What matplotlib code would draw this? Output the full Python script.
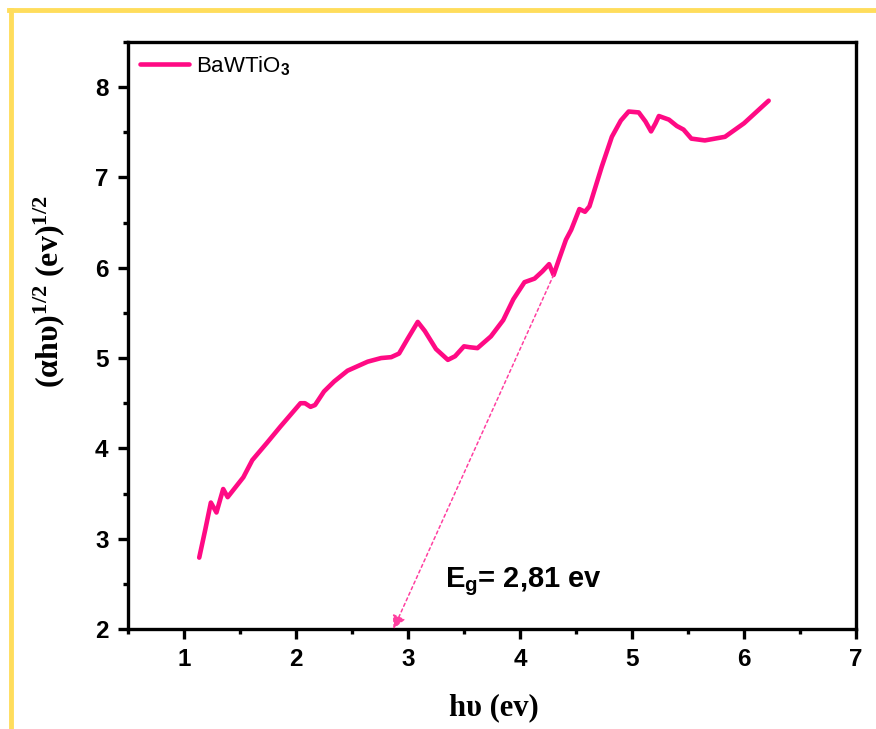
import numpy as np
import matplotlib.pyplot as plt
from matplotlib.lines import Line2D
from matplotlib.ticker import MultipleLocator

# Tauc plot data
hv = [1.136, 1.19, 1.24, 1.29, 1.35, 1.39, 1.53, 1.61, 1.74, 1.86, 1.95,
      2.04, 2.08, 2.13, 2.17, 2.25, 2.34, 2.46, 2.64, 2.76, 2.85, 2.92,
      3.00, 3.087, 3.15, 3.25, 3.356, 3.42, 3.50, 3.55, 3.62, 3.74, 3.85,
      3.94, 4.04, 4.13, 4.20, 4.26, 4.30, 4.35, 4.41, 4.457, 4.53, 4.58,
      4.62, 4.73, 4.82, 4.90, 4.97, 5.06, 5.12, 5.17, 5.21, 5.24, 5.33,
      5.40, 5.46, 5.53, 5.65, 5.83, 6.00, 6.22]
tauc = [2.79, 3.10, 3.40, 3.29, 3.55, 3.46, 3.68, 3.87, 4.06, 4.24, 4.37,
        4.50, 4.50, 4.46, 4.48, 4.63, 4.74, 4.86, 4.96, 5.00, 5.01, 5.05,
        5.22, 5.40, 5.30, 5.10, 4.98, 5.02, 5.13, 5.12, 5.11, 5.24, 5.42,
        5.65, 5.84, 5.88, 5.96, 6.04, 5.92, 6.10, 6.31, 6.42, 6.65, 6.62,
        6.68, 7.12, 7.45, 7.63, 7.73, 7.72, 7.62, 7.51, 7.60, 7.68, 7.64,
        7.57, 7.53, 7.43, 7.41, 7.45, 7.60, 7.85]

# tangent line: from point on curve down to x-axis intercept
fit_start = (4.30, 5.92)
fit_end = (2.87, 2.0)

plt.rcParams['mathtext.fontset'] = 'custom'
plt.rcParams['mathtext.rm'] = 'Liberation Serif:bold'
plt.rcParams['mathtext.it'] = 'Liberation Serif:bold'
plt.rcParams['mathtext.bf'] = 'Liberation Serif:bold'
plt.rcParams['mathtext.sf'] = 'Liberation Sans:bold'

pink = '#FF0A84'

fig = plt.figure(figsize=(8.76, 7.29), dpi=100)
ax = fig.add_axes([0.1461, 0.1372, 0.8311, 0.8052])

ax.plot(hv, tauc, color=pink, lw=3.3, solid_capstyle='round',
        solid_joinstyle='round', label=r'BaWTiO$_{\mathsf{3}}$')

ax.annotate('', xy=fit_end, xytext=fit_start,
            arrowprops=dict(arrowstyle='-|>', color='#FF3FA0', lw=1.1,
                            linestyle=(0, (2, 2)), mutation_scale=20,
                            shrinkA=0, shrinkB=0))

ax.text(3.33, 2.47, r'E$_{\mathsf{g}}$= 2,81 ev', fontsize=21,
        fontweight='bold', family='Liberation Sans')

ax.set_xlim(0.5, 7)
ax.set_ylim(2, 8.5)
ax.xaxis.set_major_locator(MultipleLocator(1))
ax.xaxis.set_minor_locator(MultipleLocator(0.5))
ax.yaxis.set_major_locator(MultipleLocator(1))
ax.yaxis.set_minor_locator(MultipleLocator(0.5))

for s in ax.spines.values():
    s.set_linewidth(2.4)
ax.tick_params(which='major', length=7, width=2.4, labelsize=17.5, pad=7)
ax.tick_params(which='minor', length=3.5, width=2.4)
for lab in ax.get_xticklabels() + ax.get_yticklabels():
    lab.set_family('Liberation Sans')
    lab.set_fontweight('bold')

ax.set_xlabel('hυ (ev)', family='Liberation Serif', fontweight='bold',
              fontsize=22)
ax.xaxis.set_label_coords(0.502, -0.11)
ax.set_ylabel(r'(αhυ)$^{1/2}$ (ev)$^{1/2}$', family='Liberation Serif',
              fontweight='bold', fontsize=23)
ax.yaxis.set_label_coords(-0.084, 0.574)

leg = ax.legend(loc='upper left', frameon=False, handlelength=2.2,
                prop={'family': 'Liberation Sans', 'size': 16},
                borderaxespad=0.15, handletextpad=0.3)

# yellow page border
yel = '#FFDD5C'
fig.add_artist(Line2D([11 / 876, 11 / 876], [0, 1 - 10 / 729],
                      transform=fig.transFigure, color=yel, lw=3.5))
fig.add_artist(Line2D([9 / 876, 1], [1 - 10 / 729, 1 - 10 / 729],
                      transform=fig.transFigure, color=yel, lw=3.5))

fig.savefig('out.png', dpi=100)
